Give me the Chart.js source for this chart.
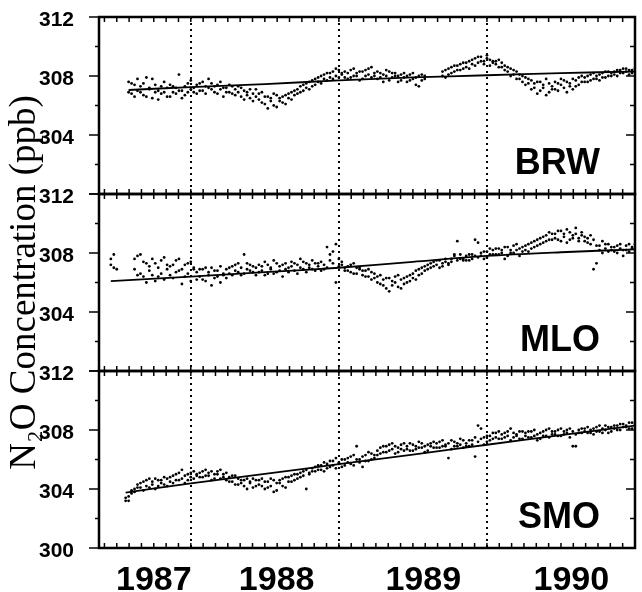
<!DOCTYPE html>
<html>
<head>
<meta charset="utf-8">
<script src="https://cdn.jsdelivr.net/npm/chart.js@4.4.1/dist/chart.umd.min.js"></script>
<style>
  html, body { margin: 0; padding: 0; background: #fff; }
  #wrap { width: 642px; height: 592px; }
</style>
</head>
<body>
<div id="wrap"><canvas id="n2o" width="642" height="592"></canvas></div>
<script>
// Sampling times (decimal year) shared by the three stations
const times = [
  1987.46, 1987.48, 1987.50, 1987.52, 1987.54, 1987.56, 1987.58, 1987.60, 1987.62, 1987.64,
  1987.66, 1987.68, 1987.70, 1987.72, 1987.74, 1987.76, 1987.78, 1987.80, 1987.82, 1987.84,
  1987.86, 1987.88, 1987.90, 1987.92, 1987.94, 1987.96, 1987.98, 1988.00, 1988.02, 1988.04,
  1988.06, 1988.08, 1988.10, 1988.12, 1988.14, 1988.16, 1988.18, 1988.20, 1988.22, 1988.24,
  1988.26, 1988.28, 1988.30, 1988.32, 1988.34, 1988.36, 1988.38, 1988.40, 1988.42, 1988.44,
  1988.46, 1988.48, 1988.50, 1988.52, 1988.54, 1988.56, 1988.58, 1988.60, 1988.62, 1988.64,
  1988.66, 1988.68, 1988.70, 1988.72, 1988.74, 1988.76, 1988.78, 1988.80, 1988.82, 1988.84,
  1988.86, 1988.88, 1988.90, 1988.92, 1988.94, 1988.96, 1988.98, 1989.00, 1989.02, 1989.04,
  1989.06, 1989.08, 1989.10, 1989.12, 1989.14, 1989.16, 1989.18, 1989.20, 1989.22, 1989.24,
  1989.26, 1989.28, 1989.30, 1989.32, 1989.34, 1989.36, 1989.38, 1989.40, 1989.42, 1989.44,
  1989.46, 1989.48, 1989.50, 1989.52, 1989.54, 1989.56, 1989.58, 1989.60, 1989.62, 1989.64,
  1989.66, 1989.68, 1989.70, 1989.72, 1989.74, 1989.76, 1989.78, 1989.80, 1989.82, 1989.84,
  1989.86, 1989.88, 1989.90, 1989.92, 1989.94, 1989.96, 1989.98, 1990.00, 1990.02, 1990.04,
  1990.06, 1990.08, 1990.10, 1990.12, 1990.14, 1990.16, 1990.18, 1990.20, 1990.22, 1990.24,
  1990.26, 1990.28, 1990.30, 1990.32, 1990.34, 1990.36, 1990.38, 1990.40, 1990.42, 1990.44,
  1990.46, 1990.48, 1990.50, 1990.52, 1990.54, 1990.56, 1990.58, 1990.60, 1990.62, 1990.64,
  1990.66, 1990.68, 1990.70, 1990.72, 1990.74, 1990.76, 1990.78, 1990.80, 1990.82, 1990.84,
  1990.86, 1990.88, 1990.90, 1990.92, 1990.94, 1990.96, 1990.98, 1991.00
];

// BRW, two samples per time (ppb)
const brwA = [
  null, null, null, null, null, null, 307.6, 306.8, 307.4, 307.0,
  307.3, 306.7, 307.9, 307.1, 306.5, 307.4, 307.0, 306.8, 307.6, 307.2,
  307.4, 306.9, 307.2, 308.1, 307.0, 306.7, 307.5, 307.1, 306.9, 307.4,
  307.5, 307.0, 307.3, 307.8, 307.1, 306.9, 307.4, 307.6, 307.2, 306.9,
  307.4, 306.8, 307.1, 307.3, 306.6, 307.0, 306.9, 306.5, 306.8, 307.1,
  306.4, 306.9, 306.1, 306.6, 306.3, 306.8, 305.9, 306.5, 306.2, 306.7,
  306.5, 306.9, 306.7, 307.1, 306.9, 307.4, 307.2, 307.6, 307.3, 307.8,
  307.6, 308.0, 307.8, 308.2, 307.9, 308.3, 308.0, 308.4, 308.1, 307.9,
  308.2, 307.9, 308.5, 308.0, 308.3, 307.8, 308.4, 308.1, 308.6, 308.0,
  308.3, 307.9, 308.1, 308.4, 307.7, 308.2, 308.0, 307.6, 308.1, 307.9,
  308.0, 307.7, 308.2, 307.9, 307.3, 308.1, 307.8, null, null, null,
  null, null, 308.0, 308.4, 308.1, 308.6, 308.3, 308.7, 308.4, 308.9,
  308.6, 309.0, 308.8, 309.2, 308.9, 309.3, 309.0, 309.4, 309.1, 308.9,
  308.8, 309.1, 308.6, 308.7, 308.3, 308.5, 308.1, 308.3, 307.8, 308.0,
  307.9, 307.5, 307.7, 307.2, 307.6, 307.0, 307.4, 307.8, 306.9, 307.3,
  307.6, 307.0, 307.4, 307.7, 306.9, 307.5, 307.8, 307.3, 307.9, 307.6,
  307.9, 307.6, 308.1, 307.8, 308.0, 307.7, 308.2, 307.9, 308.3, 308.0,
  308.1, 308.4, 308.2, 308.5, 308.3, 308.4, 308.2, 308.5
];
const brwB = [
  null, null, null, null, null, null, 306.9, 307.5, 306.6, 307.8,
  306.9, 307.5, 306.6, 307.2, 307.8, 306.9, 306.4, 307.3, 306.9, 306.6,
  306.6, 307.3, 306.8, 307.0, 306.5, 307.3, 306.9, 307.7, 307.2, 306.8,
  307.0, 307.6, 306.8, 307.2, 307.5, 307.3, 306.8, 307.1, 306.6, 307.2,
  306.9, 307.3, 306.7, 306.9, 307.2, 306.4, 306.7, 307.1, 306.3, 306.6,
  306.8, 306.2, 306.6, 305.8, 306.5, 306.0, 306.7, 306.3, 306.6, 306.1,
  306.8, 306.4, 307.0, 306.8, 307.3, 307.0, 307.5, 307.1, 307.7, 307.4,
  307.9, 307.5, 308.1, 307.7, 308.2, 307.8, 308.5, 307.9, 308.2, 308.3,
  307.8, 308.4, 308.0, 308.2, 307.7, 308.3, 308.0, 308.5, 307.9, 308.2,
  307.8, 308.2, 307.6, 308.0, 308.3, 307.9, 308.2, 308.0, 307.7, 308.2,
  307.6, 308.1, 307.8, 307.4, 308.0, 307.7, 308.0, null, null, null,
  null, null, 308.3, 307.9, 308.5, 308.2, 308.7, 308.4, 308.8, 308.5,
  308.9, 308.5, 309.1, 308.7, 309.3, 309.0, 308.8, 309.2, 308.7, 309.0,
  309.0, 308.6, 308.9, 308.4, 308.6, 308.0, 308.4, 307.8, 308.1, 307.6,
  307.4, 307.8, 307.1, 307.5, 306.8, 307.6, 307.2, 306.7, 307.5, 307.1,
  307.1, 307.5, 307.8, 307.2, 307.6, 307.3, 307.1, 307.7, 307.4, 308.0,
  307.6, 308.0, 307.7, 308.2, 307.8, 308.1, 307.9, 308.3, 308.0, 308.2,
  308.3, 308.0, 308.4, 308.2, 308.5, 308.1, 308.4, 308.3
];

// MLO
const mloA = [
  307.2, 307.9, 306.9, null, null, null, null, null, 307.6, 306.5,
  307.9, 306.4, 307.3, 306.8, 307.6, 306.1, 307.0, 306.6, 307.7, 306.9,
  307.1, 306.3, 307.5, 306.8, 305.9, 307.2, 306.6, 307.4, 306.9, 306.2,
  306.9, 306.2, 307.0, 306.5, 305.8, 306.8, 306.4, 307.1, 306.6, 306.3,
  306.6, 307.1, 306.8, 307.3, 306.5, 307.9, 306.9, 307.2, 306.7, 307.0,
  307.2, 306.8, 307.4, 306.6, 307.0, 307.5, 306.7, 307.1, 306.4, 307.3,
  307.0, 307.4, 306.8, 307.2, 307.6, 306.9, 307.3, 307.0, 307.5, 306.8,
  307.1, 307.4, 306.9, 308.4, 307.5, 308.1, 306.0, 307.6, 307.2, 306.8,
  306.8, 307.2, 306.6, 307.0, 306.9, 306.5, 306.8, 306.4, 306.7, 306.3,
  306.0, 306.5, 305.8, 306.3, 305.4, 306.1, 306.4, 305.7, 306.2, 305.9,
  306.4, 306.1, 306.6, 306.8, 306.5, 307.0, 306.8, 307.2, 307.0, 307.4,
  307.2, 307.5, 307.1, 307.4, 307.3, 307.6, 307.9, 308.8, 307.6, 307.5,
  307.8, 307.5, 307.9, 308.9, 307.7, 308.0, 307.6, 308.1, 308.3, 307.9,
  308.3, 307.9, 308.2, 307.6, 308.4, 308.0, 308.5, 308.2, 307.8, 308.4,
  308.2, 308.6, 308.3, 308.8, 308.5, 309.0, 308.7, 309.2, 308.9, 309.3,
  309.0, 309.5, 308.8, 309.3, 309.6, 308.9, 309.2, 309.7, 309.0, 309.4,
  309.1, 308.7, 309.2, 306.9, 307.3, 308.5, 308.8, 308.3, 308.6, 308.2,
  308.4, 308.0, 308.6, 308.2, 308.5, 308.1, 308.3, 308.6
];
const mloB = [
  307.6, 307.0, null, null, null, null, null, null, 306.9, 307.8,
  306.6, 307.4, 306.0, 307.1, 306.5, 307.3, 306.4, 307.5, 306.2, 307.2,
  306.5, 307.2, 306.7, 307.6, 306.9, 306.4, 307.3, 306.1, 307.0, 306.7,
  306.4, 306.9, 306.1, 306.7, 307.0, 306.3, 306.8, 306.0, 306.5, 306.9,
  307.0, 306.5, 307.2, 306.7, 307.0, 306.6, 307.3, 306.8, 307.1, 306.5,
  306.7, 307.1, 306.5, 307.2, 306.9, 306.6, 307.3, 306.8, 307.2, 306.9,
  306.7, 307.1, 307.3, 306.6, 307.0, 307.4, 306.7, 307.2, 306.9, 307.3,
  307.3, 306.8, 307.2, 307.0, 307.9, 307.3, 308.6, 307.1, 307.4, 307.0,
  307.1, 306.7, 307.3, 306.6, 307.0, 306.8, 306.4, 306.9, 306.2, 306.6,
  306.4, 305.9, 306.2, 305.6, 306.3, 305.8, 306.0, 306.5, 305.6, 306.3,
  306.0, 306.5, 306.3, 306.2, 306.9, 306.6, 307.1, 306.9, 307.3, 307.1,
  307.5, 307.0, 307.3, 307.6, 307.2, 307.4, 307.8, 307.5, 307.9, 307.6,
  307.5, 307.9, 307.6, 307.8, 308.7, 307.8, 308.1, 307.7, 307.9, 308.2,
  307.9, 308.3, 308.0, 308.4, 307.8, 308.2, 308.0, 308.6, 308.3, 308.1,
  308.5, 308.1, 308.7, 308.4, 308.9, 308.6, 309.1, 308.8, 309.4, 308.9,
  309.3, 308.9, 309.5, 309.1, 308.7, 309.4, 309.0, 309.3, 308.8, 309.2,
  308.8, 309.0, 308.6, 308.9, 308.5, 308.2, 308.0, 308.6, 308.1, 308.4,
  308.1, 308.5, 308.3, 307.8, 308.2, 308.6, 308.4, 308.2
];

// SMO
const smoA = [
  null, null, null, null, null, 303.4, 303.2, 303.7, 304.0, 304.3,
  304.1, 304.5, 304.2, 304.7, 304.3, 304.0, 304.6, 304.4, 304.8, 304.2,
  304.5, 304.9, 304.6, 305.1, 304.7, 304.4, 305.0, 304.8, 305.2, 304.9,
  305.1, 304.8, 305.3, 304.9, 305.2, 304.7, 305.0, 305.3, 304.8, 305.1,
  304.8, 304.5, 304.9, 304.3, 304.6, 304.2, 304.7, 304.4, 304.1, 304.6,
  304.3, 304.7, 304.0, 304.5, 304.2, 304.6, 303.9, 304.4, 304.7, 304.1,
  304.5, 304.9, 304.6, 305.0, 304.8, 305.2, 304.0, 305.1, 305.4, 305.2,
  305.3, 305.6, 305.2, 305.7, 305.5, 305.9, 305.4, 305.8, 306.0, 305.6,
  305.8, 306.2, 305.6, 306.9, 306.0, 305.5, 306.3, 305.9, 306.4, 306.1,
  306.3, 306.8, 306.5, 306.9, 306.6, 307.1, 306.4, 306.8, 307.0, 306.6,
  306.7, 307.1, 306.6, 306.9, 307.2, 306.8, 306.5, 307.0, 306.9, 307.2,
  306.8, 307.2, 306.9, 307.0, 306.1, 307.3, 306.9, 307.1, 307.4, 306.8,
  307.1, 306.9, 307.3, 306.2, 308.3, 307.4, 307.0, 307.6, 307.3, 307.8,
  307.5, 307.9, 307.4, 307.8, 307.6, 308.1, 307.5, 307.7, 307.9, 307.4,
  307.6, 307.9, 307.5, 308.0, 307.7, 307.4, 307.9, 307.6, 308.1, 307.7,
  307.7, 308.0, 307.6, 307.9, 307.8, 308.1, 306.9, 307.7, 308.0, 307.8,
  307.9, 308.2, 307.8, 308.1, 307.9, 308.3, 307.8, 308.0, 308.2, 307.9,
  308.1, 308.3, 308.0, 308.4, 308.2, 308.5, 308.1, 308.4
];
const smoB = [
  null, null, null, null, null, 303.2, 303.5, 303.9, 303.8, 304.1,
  304.4, 303.9, 304.6, 304.1, 304.5, 304.7, 304.2, 304.6, 304.3, 304.7,
  304.8, 304.4, 305.0, 304.6, 305.3, 304.9, 304.6, 305.1, 304.7, 305.0,
  304.8, 305.2, 304.9, 305.1, 304.6, 305.0, 305.2, 304.7, 305.0, 304.6,
  304.5, 304.9, 304.3, 304.7, 304.4, 304.6, 304.0, 304.5, 304.7, 304.2,
  304.6, 304.2, 304.5, 304.1, 304.7, 303.8, 304.4, 304.6, 304.2, 304.8,
  304.8, 304.5, 305.0, 304.7, 305.1, 304.9, 305.3, 305.0, 305.2, 305.5,
  305.6, 305.3, 305.8, 305.4, 305.9, 305.6, 306.1, 305.7, 305.5, 306.0,
  306.1, 305.7, 306.3, 306.0, 305.8, 306.2, 305.9, 306.5, 306.0, 306.3,
  306.6, 306.4, 306.9, 306.5, 307.0, 306.7, 306.9, 306.5, 306.7, 307.1,
  306.9, 306.6, 307.0, 306.7, 306.8, 307.1, 306.9, 306.6, 307.1, 306.8,
  307.1, 306.8, 307.3, 306.9, 307.1, 306.7, 307.2, 306.9, 307.0, 307.3,
  306.9, 307.3, 307.0, 307.5, 307.2, 308.1, 307.5, 307.2, 307.6, 307.4,
  307.8, 307.4, 307.7, 307.5, 307.9, 307.3, 307.8, 307.6, 307.4, 307.9,
  307.8, 307.5, 307.9, 307.6, 307.3, 307.8, 307.6, 308.0, 307.5, 307.9,
  307.9, 307.6, 308.1, 307.7, 308.0, 307.5, 307.9, 306.9, 307.8, 308.1,
  308.1, 307.8, 308.0, 307.7, 308.2, 307.9, 308.1, 308.3, 307.8, 308.2,
  308.3, 308.0, 308.4, 308.2, 308.3, 308.1, 308.5, 308.3
];

// Fitted trend lines
const brwTrendX = [1987.58, 1988.0, 1988.5, 1989.0, 1989.5, 1990.0, 1990.5, 1991.0];
const brwTrendY = [307.05, 307.25, 307.45, 307.7, 307.9, 308.05, 308.2, 308.3];
const mloTrendX = [1987.46, 1988.0, 1988.5, 1989.0, 1989.5, 1990.0, 1990.5, 1991.0];
const mloTrendY = [306.1, 306.4, 306.7, 307.0, 307.4, 307.8, 308.05, 308.25];
const smoTrendX = [1987.56, 1988.0, 1988.5, 1989.0, 1989.5, 1990.0, 1990.5, 1991.0];
const smoTrendY = [303.75, 304.38, 305.02, 305.68, 306.33, 307.0, 307.65, 308.3];

const stations = ["BRW", "MLO", "SMO"];
const yearLabels = ["1987", "1988", "1989", "1990"];
const yearLabelPos = [1987.75, 1988.58, 1989.57, 1990.57];
const yearLines = [1988, 1989, 1990];

const sans = "'Liberation Sans', Arial, Helvetica, sans-serif";

function trendSet(id, xs, ys) {
  return {
    type: "line",
    xAxisID: "x",
    yAxisID: "y" + id,
    data: xs.map((x, i) => ({ x: x, y: ys[i] })),
    borderColor: "#000",
    borderWidth: 1.8,
    pointRadius: 0,
    tension: 0.3,
    fill: false
  };
}

function dotSet(id, vals) {
  return {
    type: "scatter",
    xAxisID: "x",
    yAxisID: "y" + id,
    data: times.map((t, i) => ({ x: t, y: vals[i] })).filter(p => p.y !== null),
    pointRadius: 1.4,
    pointBackgroundColor: "#000",
    pointBorderWidth: 0,
    showLine: false
  };
}

function panelAxis(name, weight, showBottom) {
  return {
    type: "linear",
    position: "left",
    stack: "panels",
    stackWeight: 1,
    weight: weight,
    min: 300,
    max: 312,
    afterFit: s => {
      s.width = 99;
      s.paddingTop = 0;
      s.paddingBottom = 0;
    },
    grid: { display: false },
    border: { display: false },
    ticks: {
      stepSize: 2,
      padding: 17,
      labelOffset: 3,
      color: "#000",
      font: { family: sans, size: 21, weight: "bold" },
      callback: v => (v % 4 === 0 && (showBottom || v > 300)) ? String(v) : ""
    },
    title: {
      display: name === "MLO",
      text: "N\u2082O Concentration (ppb)",
      color: "#000",
      font: { family: "'Liberation Serif', 'Times New Roman', serif", size: 37 },
      padding: { top: 3, bottom: 0 }
    }
  };
}

// panel frames, inward month ticks, y ticks and station names
const panelFrame = {
  id: "panelFrame",
  afterDatasetsDraw(chart) {
    const { ctx, chartArea: a, scales } = chart;
    const xs = scales.x;
    const seg = (x1, y1, x2, y2) => {
      ctx.beginPath();
      ctx.moveTo(x1, y1);
      ctx.lineTo(x2, y2);
      ctx.stroke();
    };
    ctx.save();
    ctx.strokeStyle = "#000";
    ctx.fillStyle = "#000";
    stations.forEach(name => {
      const ys = scales["y" + name];
      ctx.lineWidth = 1.5;
      for (let m = Math.ceil(xs.min * 12); m <= Math.floor(xs.max * 12); m++) {
        const px = xs.getPixelForValue(m / 12);
        seg(px, ys.top, px, ys.top + 5);
        seg(px, ys.bottom, px, ys.bottom - 5);
      }
      for (let v = ys.min; v <= ys.max; v += 2) {
        const py = ys.getPixelForValue(v);
        const major = v % 4 === 0;
        seg(a.left - (major ? 10 : 4), py, a.left, py);
        seg(a.right - (major ? 9 : 5), py, a.right, py);
      }
      ctx.lineWidth = 2.5;
      ctx.strokeRect(a.left, ys.top, a.right - a.left, ys.bottom - ys.top);
      ctx.font = "bold 36px " + sans;
      ctx.textAlign = "right";
      ctx.textBaseline = "alphabetic";
      ctx.fillText(name, a.right - 35, ys.getPixelForValue(301.35));
    });
    ctx.restore();
  }
};

new Chart(document.getElementById("n2o"), {
  type: "scatter",
  data: {
    datasets: [
      trendSet("BRW", brwTrendX, brwTrendY),
      trendSet("MLO", mloTrendX, mloTrendY),
      trendSet("SMO", smoTrendX, smoTrendY),
      dotSet("BRW", brwA), dotSet("BRW", brwB),
      dotSet("MLO", mloA), dotSet("MLO", mloB),
      dotSet("SMO", smoA), dotSet("SMO", smoB)
    ]
  },
  options: {
    responsive: false,
    animation: false,
    devicePixelRatio: 1,
    events: [],
    layout: { padding: { top: 17, right: 7, left: 0, bottom: 0 } },
    plugins: { legend: { display: false }, tooltip: { enabled: false } },
    scales: {
      x: {
        type: "linear",
        position: "bottom",
        min: 1987.38,
        max: 1991.0,
        afterBuildTicks: s => { s.ticks = yearLabelPos.map(v => ({ value: v })); },
        afterFit: s => { s.height = 44; },
        grid: { display: false },
        border: { display: false },
        ticks: {
          autoSkip: false,
          maxRotation: 0,
          padding: 4,
          color: "#000",
          font: { family: sans, size: 34, weight: "bold" },
          callback: (v, i) => yearLabels[i]
        }
      },
      xd: {
        type: "linear",
        position: "top",
        min: 1987.38,
        max: 1991.0,
        afterBuildTicks: s => { s.ticks = yearLines.map(v => ({ value: v })); },
        afterFit: s => { s.height = 0; },
        ticks: { display: false },
        grid: { display: true, drawTicks: false, color: "#000", lineWidth: 2 },
        border: { display: false, dash: [2, 4] }
      },
      yBRW: panelAxis("BRW", 3, false),
      yMLO: panelAxis("MLO", 2, false),
      ySMO: panelAxis("SMO", 1, true)
    }
  },
  plugins: [panelFrame]
});
</script>
</body>
</html>
